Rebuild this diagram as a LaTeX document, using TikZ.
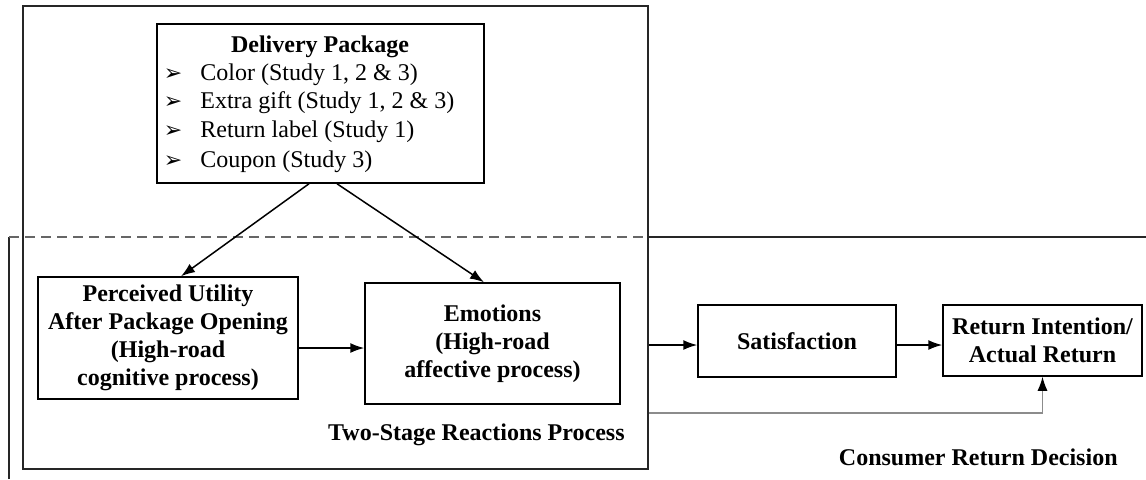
\documentclass[tikz,border=0pt]{standalone}
\usepackage{fontspec}
\setmainfont{Liberation Serif}
\newfontfamily\symfont{DejaVu Sans}
\usetikzlibrary{arrows.meta,calc}
\begin{document}
\begin{tikzpicture}[x=0.5pt,y=-0.5pt,
  box/.style={draw, line width=0.75pt, inner sep=0pt, align=center,
    font=\bfseries\fontsize{12}{14}\selectfont},
  txt/.style={inner sep=0pt, font=\fontsize{12}{14}\selectfont},
  btxt/.style={inner sep=0pt, font=\bfseries\fontsize{12}{14}\selectfont},
  bullet/.style={inner sep=0pt, font=\symfont\fontsize{11}{11}\selectfont},
  frame/.style={line width=0.75pt, draw=black!85},
  arr/.style={line width=0.75pt, -{Latex[length=7pt,width=5pt]}}]
\useasboundingbox[fill=white] (0,0) rectangle (1146,479);

% outer frame of the package and two-stage process
\node[frame, draw, minimum width=312.5pt, minimum height=231.5pt, inner sep=0pt] (stage) at (335.5,237.5) {};

% consumer return decision frame
\coordinate (ctl) at (9,237);
\coordinate (cbl) at (9,479);
\coordinate (ctr) at (1146,237);
\draw[frame] (cbl) -- (ctl);
\draw[line width=0.75pt, draw=black!60, dash pattern=on 5pt off 3pt] (ctl) -- (stage.east |- ctl);
\draw[frame] (stage.east |- ctl) -- (ctr);

% delivery package
\node[box, minimum width=163.5pt, minimum height=79.5pt] (pkg) at (320.5,103.5) {};
\node[btxt] (pkgtitle) at (320,47) {Delivery Package};
\node[bullet] (b1) at (173,75) {➢};
\node[bullet] (b2) at (173,103) {➢};
\node[bullet] (b3) at (173,132) {➢};
\node[bullet] (b4) at (173,162) {➢};
\node[txt, anchor=west] (i1) at (200,75) {Color (Study 1, 2 \& 3)};
\node[txt, anchor=west] (i2) at (200,103) {Extra gift (Study 1, 2 \& 3)};
\node[txt, anchor=west] (i3) at (200,132) {Return label (Study 1)};
\node[txt, anchor=west] (i4) at (200,162) {Coupon (Study 3)};

% two-stage reactions
\node[box, minimum width=130pt, minimum height=61pt] (perc) at (168,338)
  {Perceived Utility\\After Package Opening\\(High-road\\cognitive process)};
\node[box, minimum width=127.5pt, minimum height=60.5pt] (emo) at (492.5,343.5)
  {Emotions\\(High-road\\affective process)};
\node[btxt, anchor=east] (stagelbl) at (625,435) {Two-Stage Reactions Process};

% consumer return decision
\node[box, minimum width=99pt, minimum height=36pt] (sat) at (797,341) {Satisfaction};
\node[box, minimum width=99.5pt, minimum height=35.5pt] (ret) at (1042.5,340.5)
  {Return Intention/\\Actual Return};
\node[btxt, anchor=east] (declbl) at (1118,457) {Consumer Return Decision};

% connectors
\draw[arr] ([xshift=-5.75pt]pkg.south) -- ([xshift=6.5pt]perc.north);
\draw[arr] ([xshift=8.25pt]pkg.south) -- ([xshift=-4.25pt]emo.north);
\coordinate (m0) at (300,348);
\draw[arr] (perc.east |- m0) -- (emo.west |- m0);
\coordinate (m1) at (648,345);
\draw[arr] (stage.east |- m1) -- (sat.west |- m1);
\draw[arr] (sat.east |- m1) -- (ret.west |- m1);
\coordinate (g1) at (648,413);
\draw[line width=0.6pt, draw=black!45, -{Latex[length=7pt,width=5pt,color=black]}]
  (stage.east |- g1) -| (ret.south);
\end{tikzpicture}
\end{document}
